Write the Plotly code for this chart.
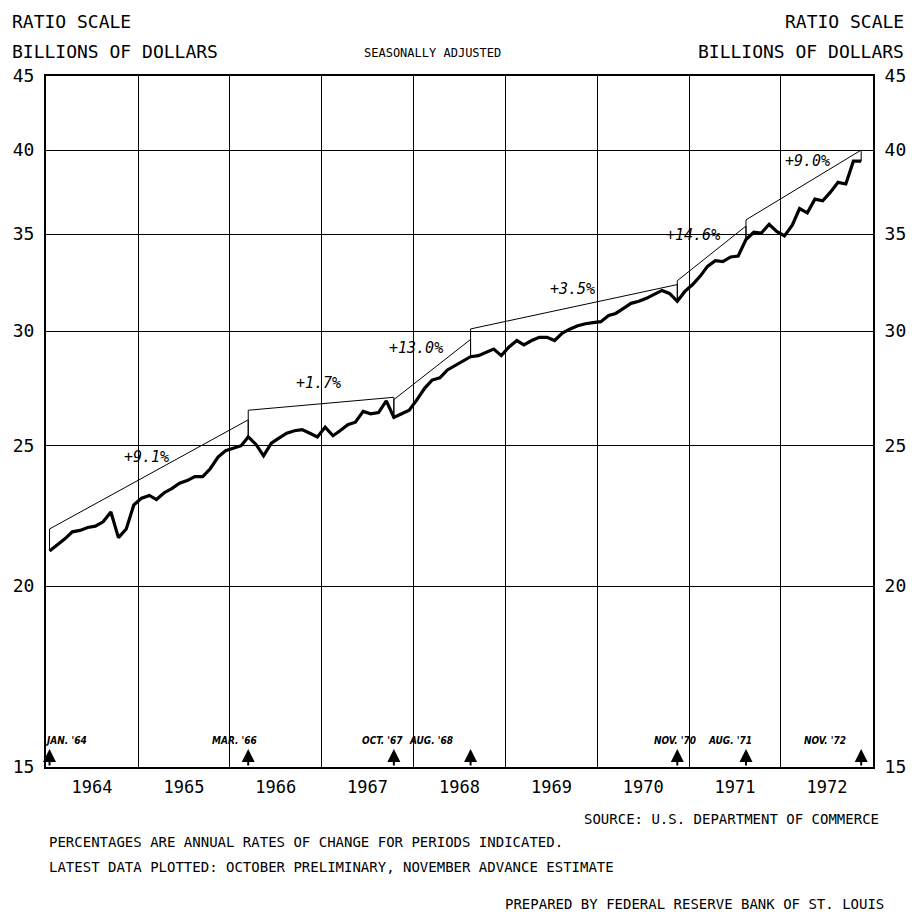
import math
import pandas as pd
import plotly.graph_objects as go

# ---------------- data ----------------
# Monthly values, billions of dollars, seasonally adjusted, Jan 1964 - Nov 1972
sales_1964 = [21.15, 21.35, 21.55, 21.8, 21.85, 21.95, 22.0, 22.15, 22.5, 21.6, 21.9, 22.75]
sales_1965 = [23.0, 23.1, 22.95, 23.2, 23.35, 23.55, 23.65, 23.8, 23.8, 24.1, 24.55, 24.8]
sales_1966 = [24.9, 25.0, 25.35, 25.05, 24.6, 25.1, 25.3, 25.5, 25.6, 25.65, 25.5, 25.35]
sales_1967 = [25.75, 25.4, 25.6, 25.85, 25.95, 26.4, 26.3, 26.35, 26.85, 26.15, 26.3, 26.45]
sales_1968 = [26.9, 27.4, 27.75, 27.85, 28.2, 28.4, 28.6, 28.8, 28.85, 29.0, 29.15, 28.85]
sales_1969 = [29.25, 29.55, 29.35, 29.55, 29.7, 29.7, 29.55, 29.9, 30.1, 30.25, 30.35, 30.4]
sales_1970 = [30.45, 30.75, 30.85, 31.1, 31.35, 31.45, 31.6, 31.8, 32.0, 31.85, 31.45, 31.95]
sales_1971 = [32.3, 32.75, 33.25, 33.55, 33.5, 33.75, 33.8, 34.7, 35.1, 35.05, 35.55, 35.15]
sales_1972 = [34.9, 35.5, 36.45, 36.2, 37.0, 36.9, 37.4, 38.0, 37.9, 39.3, 39.3]

# Trend periods (start / end months), trend-line levels and labels
trend_start = ["1964-01", "1966-03", "1967-10", "1968-08", "1970-11", "1971-08"]
trend_end = ["1966-03", "1967-10", "1968-08", "1970-11", "1971-08", "1972-11"]
trend_start_level = [21.9, 26.45, 26.9, 30.1, 32.5, 35.8]
trend_end_level = [26.05, 27.0, 29.6, 32.3, 35.45, 40.0]
trend_labels = ["+9.1%", "+1.7%", "+13.0%", "+3.5%", "+14.6%", "+9.0%"]

# Period markers along the bottom
marker_months = ["1964-01", "1966-03", "1967-10", "1968-08", "1970-11", "1971-08", "1972-11"]
marker_labels = ["JAN. '64", "MAR. '66", "OCT. '67", "AUG. '68", "NOV. '70", "AUG. '71", "NOV. '72"]

y_ticks = [15, 20, 25, 30, 35, 40, 45]

# ---------------- build ----------------
sales = (sales_1964 + sales_1965 + sales_1966 + sales_1967 + sales_1968 +
         sales_1969 + sales_1970 + sales_1971 + sales_1972)
months = pd.date_range("1964-01-01", periods=len(sales), freq="MS") + pd.Timedelta(days=14)
by_month = {d.strftime("%Y-%m"): v for d, v in zip(months, sales)}


def mid(m):
    return pd.Timestamp(m + "-15")


MONO = "DejaVu Sans Mono"
NARROW = "Liberation Sans Narrow, DejaVu Sans Condensed, Arial Narrow, sans-serif"

# page offset (default body margin of the html page)
OFF = 8
FIG = 915
# plot area in (screen) pixels
L, R, T, B = 46, 873, 76, 767
W, H = R - L, B - T


def px(xp):
    return (xp - L) / W


def py(yp):
    return (B - yp) / H


fig = go.Figure()

# trend lines (thin)
for s, e, s_lv, e_lv in zip(trend_start, trend_end, trend_start_level, trend_end_level):
    fig.add_trace(go.Scatter(
        x=[mid(s), mid(s), mid(e), mid(e)],
        y=[by_month[s], s_lv, e_lv, by_month[e]],
        mode="lines", line=dict(color="black", width=1),
        hoverinfo="skip", showlegend=False))

# data (thick)
fig.add_trace(go.Scatter(x=months, y=sales, mode="lines",
                         line=dict(color="black", width=3.2),
                         showlegend=False))
# invisible twin for right axis
fig.add_trace(go.Scatter(x=months, y=sales, mode="lines", yaxis="y2",
                         line=dict(color="rgba(0,0,0,0)", width=0),
                         hoverinfo="skip", showlegend=False))

annotations = []

# percentage labels (log axis -> annotation y in log10 units)
label_pos = [("1965-02-05", 24.55), ("1966-12-20", 27.6), ("1968-01-10", 29.2),
             ("1969-09-25", 32.05), ("1971-01-15", 34.95), ("1972-04-15", 39.3)]
for (d, v), t in zip(label_pos, trend_labels):
    annotations.append(dict(x=d, y=math.log10(v), yref="y", xref="x", text="<i>" + t + "</i>",
                            showarrow=False,
                            font=dict(family=MONO, size=15, color="black"),
                            xanchor="center", yanchor="middle"))

# bottom period arrows + labels
label_shift = [16, -14, -11, -40, -2, -16, -36]
for m, t, sh in zip(marker_months, marker_labels, label_shift):
    annotations.append(dict(x=mid(m), y=py(749), xref="x", yref="paper", text="",
                            showarrow=True, ax=0, ay=18, arrowhead=2, arrowsize=1.3,
                            arrowwidth=2, arrowcolor="black"))
    annotations.append(dict(x=mid(m), y=py(740), xref="x", yref="paper", text="<b><i>" + t + "</i></b>",
                            showarrow=False, xshift=sh, xanchor="center", yanchor="middle",
                            font=dict(family=NARROW, size=10, color="black")))

# header texts
hdr = dict(family=MONO, size=18, color="black")
annotations += [
    dict(x=px(10), y=py(21), xref="paper", yref="paper", text="RATIO SCALE", showarrow=False,
         xanchor="left", yanchor="middle", font=hdr),
    dict(x=px(906), y=py(21), xref="paper", yref="paper", text="RATIO SCALE", showarrow=False,
         xanchor="right", yanchor="middle", font=hdr),
    dict(x=px(10), y=py(51), xref="paper", yref="paper", text="BILLIONS OF DOLLARS", showarrow=False,
         xanchor="left", yanchor="middle", font=hdr),
    dict(x=px(906), y=py(51), xref="paper", yref="paper", text="BILLIONS OF DOLLARS", showarrow=False,
         xanchor="right", yanchor="middle", font=hdr),
    dict(x=px(432), y=py(53), xref="paper", yref="paper", text="SEASONALLY ADJUSTED", showarrow=False,
         xanchor="center", yanchor="middle", font=dict(family=MONO, size=12, color="black")),
]

# footer texts
ft = dict(family=MONO, size=14, color="black")
annotations += [
    dict(x=px(881), y=py(819), xref="paper", yref="paper", text="SOURCE: U.S. DEPARTMENT OF COMMERCE",
         showarrow=False, xanchor="right", yanchor="middle", font=ft),
    dict(x=px(47), y=py(842), xref="paper", yref="paper",
         text="PERCENTAGES ARE ANNUAL RATES OF CHANGE FOR PERIODS INDICATED.",
         showarrow=False, xanchor="left", yanchor="middle", font=ft),
    dict(x=px(47), y=py(867), xref="paper", yref="paper",
         text="LATEST DATA PLOTTED: OCTOBER PRELIMINARY, NOVEMBER ADVANCE ESTIMATE",
         showarrow=False, xanchor="left", yanchor="middle", font=ft),
    dict(x=px(886), y=py(904), xref="paper", yref="paper", text="PREPARED BY FEDERAL RESERVE BANK OF ST. LOUIS",
         showarrow=False, xanchor="right", yanchor="middle", font=ft),
]

yax = dict(type="log", range=[math.log10(15), math.log10(45)],
           tickvals=y_ticks, ticktext=[str(v) for v in y_ticks],
           showline=True, linecolor="black", linewidth=2,
           ticks="", ticklabelstandoff=6,
           tickfont=dict(family=MONO, size=18, color="black"),
           zeroline=False, fixedrange=True, automargin=False)

fig.update_layout(
    width=FIG, height=FIG,
    margin=dict(l=L - OFF, r=FIG - (R - OFF), t=T - OFF, b=FIG - (B - OFF), autoexpand=False),
    paper_bgcolor="white", plot_bgcolor="white",
    showlegend=False,
    xaxis=dict(type="date", range=["1964-01-01", "1973-01-01"],
               tick0="1964-01-01", dtick="M12", tickformat="%Y", ticklabelmode="period",
               showgrid=True, gridcolor="black", gridwidth=1.2,
               showline=True, linecolor="black", linewidth=2, mirror=True,
               ticks="", ticklabelstandoff=4,
               tickfont=dict(family=MONO, size=17, color="black"),
               zeroline=False, automargin=False),
    yaxis=dict(**yax, side="left", mirror=True, showgrid=True, gridcolor="black", gridwidth=1.2),
    yaxis2=dict(**yax, showgrid=False, overlaying="y", side="right"),
    annotations=annotations,
)

fig.write_html("out.html")
